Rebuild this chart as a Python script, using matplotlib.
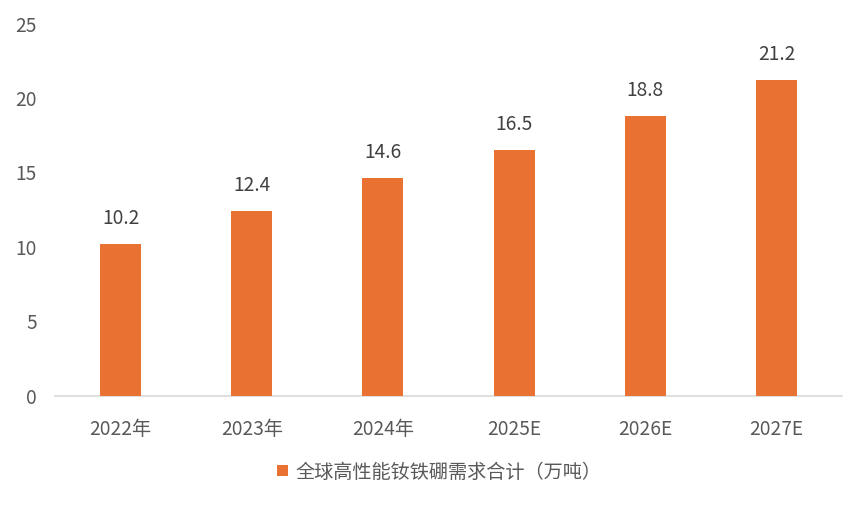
import matplotlib
matplotlib.use("Agg")
import matplotlib.pyplot as plt

categories = ["2022年", "2023年", "2024年", "2025E", "2026E", "2027E"]
values = [10.2, 12.4, 14.6, 16.5, 18.8, 21.2]
series_name = "全球高性能钕铁硼需求合计（万吨）"
yticks = [0, 5, 10, 15, 20, 25]

plt.rcParams['font.family'] = ['Noto Sans CJK SC', 'DejaVu Sans']
text_color = "#595959"
bar_color = "#E97132"
fs = 13.8

fig = plt.figure(figsize=(8.65, 5.05), dpi=100)
ax = fig.add_axes([55/865, (505-395.7)/505, 787/865, 372.2/505])

x = range(len(categories))
bars = ax.bar(x, values, width=0.3125, color=bar_color, label=series_name, zorder=3)
for xi, v in zip(x, values):
    ax.annotate(f"{v:.1f}", (xi, v), xytext=(0, 11), textcoords="offset points",
                ha="center", va="bottom", fontsize=fs, color="#404040")

ax.set_xlim(-0.5, len(categories) - 0.5)
ax.set_ylim(0, 25)
ax.set_yticks(yticks)
ax.set_xticks(list(x))
ax.set_xticklabels(categories)
ax.tick_params(axis="both", length=0, labelsize=fs, colors=text_color)
ax.tick_params(axis="y", pad=13.2)
ax.tick_params(axis="x", pad=16.5)
for s in ["top", "right", "left"]:
    ax.spines[s].set_visible(False)
ax.spines["bottom"].set_color("#D9D9D9")
ax.spines["bottom"].set_linewidth(1.2)

leg = fig.legend(handles=[bars], labels=[series_name], loc="center",
                 bbox_to_anchor=(0.5 + 7/865, (505-472)/505), frameon=False,
                 fontsize=fs, handlelength=0.55, handleheight=0.55, handletextpad=0.4)
for t in leg.get_texts():
    t.set_color(text_color)

fig.savefig("out.png", dpi=100)
